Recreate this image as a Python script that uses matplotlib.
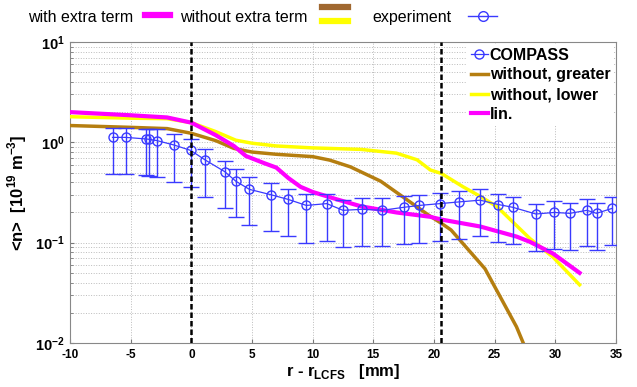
import numpy as np
import matplotlib
matplotlib.use("Agg")
import matplotlib.pyplot as plt
from matplotlib.lines import Line2D

plt.rcParams['font.family'] = ['Liberation Sans', 'DejaVu Sans']
plt.rcParams['mathtext.fontset'] = 'custom'
plt.rcParams['mathtext.rm'] = 'Liberation Sans'
plt.rcParams['mathtext.bf'] = 'Liberation Sans:bold'

# experiment (COMPASS)
x_exp = [-6.5, -5.4, -3.73, -3.46, -2.83, -1.43, -0.05, 1.11, 2.75, 3.66, 4.78, 6.57, 7.97, 9.48,
         11.16, 12.5, 14.1, 15.7, 17.5, 18.8, 20.5, 22.1, 23.8, 25.3, 26.5, 28.4, 29.9, 31.2,
         32.6, 33.4, 34.7]
n_exp = [1.12, 1.12, 1.08, 1.07, 1.04, 0.94, 0.83, 0.67, 0.51, 0.41, 0.34, 0.30, 0.27, 0.235,
         0.245, 0.21, 0.215, 0.21, 0.225, 0.235, 0.245, 0.255, 0.265, 0.24, 0.225, 0.193, 0.2,
         0.196, 0.21, 0.196, 0.22]
n_hi = [1.38, 1.38, 1.36, 1.35, 1.35, 1.21, 1.07, 0.85, 0.656, 0.537, 0.447, 0.39, 0.345, 0.305,
        0.307, 0.266, 0.277, 0.277, 0.294, 0.30, 0.31, 0.33, 0.342, 0.303, 0.287, 0.244, 0.262,
        0.25, 0.274, 0.25, 0.283]
n_lo = [0.483, 0.483, 0.469, 0.461, 0.448, 0.405, 0.356, 0.287, 0.22, 0.179, 0.15, 0.13, 0.116,
        0.10, 0.103, 0.09, 0.0925, 0.0925, 0.097, 0.10, 0.104, 0.11, 0.116, 0.101, 0.097, 0.082,
        0.086, 0.084, 0.092, 0.084, 0.095]

# model: without extra term, greater
x_gr = [-10, -5, -2, 0, 2, 3.5, 5, 7, 10, 11.4, 13.1, 15.6, 17.8, 19.5, 20.6, 21.4, 24.2, 26.8, 27.6]
n_gr = [1.47, 1.41, 1.37, 1.23, 1.04, 0.87, 0.80, 0.76, 0.72, 0.665, 0.57, 0.41, 0.266, 0.19,
        0.156, 0.134, 0.055, 0.0145, 0.0085]

# model: without extra term, lower
x_lw = [-10, -5, -2, 0, 2, 3.66, 5, 7, 10, 14, 16.9, 18.6, 19.7, 20.6, 22.4, 23.8, 25.2, 27.9, 29.8, 32]
n_lw = [1.80, 1.74, 1.72, 1.57, 1.28, 1.05, 0.98, 0.92, 0.88, 0.85, 0.78, 0.67, 0.53, 0.49, 0.36,
        0.29, 0.228, 0.11, 0.072, 0.038]

# model: with extra term (lin.)
x_lin = [-10, -5, -2, 0, 2, 3.5, 4.5, 6, 7, 8, 9, 10, 12, 14, 16.9, 19.7, 20.6, 23.8, 26.8, 27.9, 29.8, 32]
n_lin = [2.0, 1.86, 1.77, 1.57, 1.18, 0.92, 0.73, 0.62, 0.56, 0.44, 0.36, 0.32, 0.27, 0.23, 0.20,
         0.181, 0.17, 0.145, 0.115, 0.102, 0.078, 0.05]

x_sep = [0, 20.6]

blue = '#3a3aff'
brown = '#b57e10'
yellow = '#ffff00'
magenta = '#ff00ff'

fig = plt.figure(figsize=(6.37, 3.87), dpi=100)
ax = fig.add_axes([0.110, 0.1137, 0.857, 0.7778])

ax.errorbar(x_exp, n_exp, yerr=[np.array(n_exp) - np.array(n_lo), np.array(n_hi) - np.array(n_exp)],
            color=blue, lw=0.9, marker='o', mfc='none', mec=blue, ms=6.5, capsize=5.5,
            elinewidth=1.0, capthick=1.0, zorder=5)
ax.plot(x_gr, n_gr, color=brown, lw=2.5, zorder=4)
ax.plot(x_lw, n_lw, color=yellow, lw=2.5, zorder=4)
ax.plot(x_lin, n_lin, color=magenta, lw=3, zorder=4)
for xs in x_sep:
    ax.axvline(xs, color='black', ls='--', lw=1.8, dashes=(2.2, 1.2), zorder=6)

ax.set_yscale('log')
ax.set_xlim(-10, 35)
ax.set_ylim(1e-2, 1e1)
ax.set_xticks(np.arange(-10, 36, 5))
ax.set_xticklabels([str(v) for v in range(-10, 36, 5)], fontweight='bold', fontsize=8.5)
ax.set_yticks([1e-2, 1e-1, 1e0, 1e1])
ax.set_yticklabels([r'$\mathbf{10^{-2}}$', r'$\mathbf{10^{-1}}$', r'$\mathbf{10^{0}}$',
                    r'$\mathbf{10^{1}}$'], fontsize=10.5)
ax.tick_params(which='both', direction='in', color='#777777', length=3, pad=4)
ax.tick_params(which='minor', length=2)
ax.grid(True, which='major', ls=':', color='#bbbbbb', lw=0.7)
ax.grid(True, which='minor', axis='y', ls=':', color='#bbbbbb', lw=0.7)
for s in ax.spines.values():
    s.set_color('#888888')

ax.set_xlabel(r'r - r$_{\mathbf{LCFS}}$   [mm]', fontweight='bold', fontsize=12, labelpad=1)
ax.set_ylabel(r'<n>  [10$^{\mathbf{19}}$ m$^{\mathbf{-3}}$]', fontweight='bold', fontsize=12, labelpad=4)

handles = [Line2D([], [], color=blue, lw=0.9, marker='o', mfc='none', ms=6.5),
           Line2D([], [], color=brown, lw=2.5),
           Line2D([], [], color=yellow, lw=2.5),
           Line2D([], [], color=magenta, lw=3)]
labels = ['COMPASS', 'without, greater', 'without, lower', 'lin.']
ax.legend(handles, labels, loc='upper right', frameon=True, fancybox=False, edgecolor='none',
          facecolor='white', framealpha=1, handlelength=1.1, handletextpad=0.1,
          borderpad=0.2, borderaxespad=0.15, labelspacing=0.3,
          prop={'weight': 'bold', 'size': 11.5})

# figure-level legend row
fig.text(0.044, 0.955, 'with extra term', fontsize=11.5, va='center')
fig.add_artist(Line2D([0.228, 0.267], [0.962, 0.962], color=magenta, lw=4.5))
fig.text(0.283, 0.955, 'without extra term', fontsize=11.5, va='center')
fig.add_artist(Line2D([0.505, 0.546], [0.982, 0.982], color='#a06830', lw=4.5))
fig.add_artist(Line2D([0.505, 0.546], [0.946, 0.946], color=yellow, lw=4.5))
fig.text(0.584, 0.955, 'experiment', fontsize=11.5, va='center')
fig.add_artist(Line2D([0.735, 0.781], [0.958, 0.958], color=blue, lw=1))
fig.add_artist(Line2D([0.758], [0.958], color=blue, marker='o', mfc='none', ms=7, lw=0))

fig.savefig('out.png', dpi=100)
